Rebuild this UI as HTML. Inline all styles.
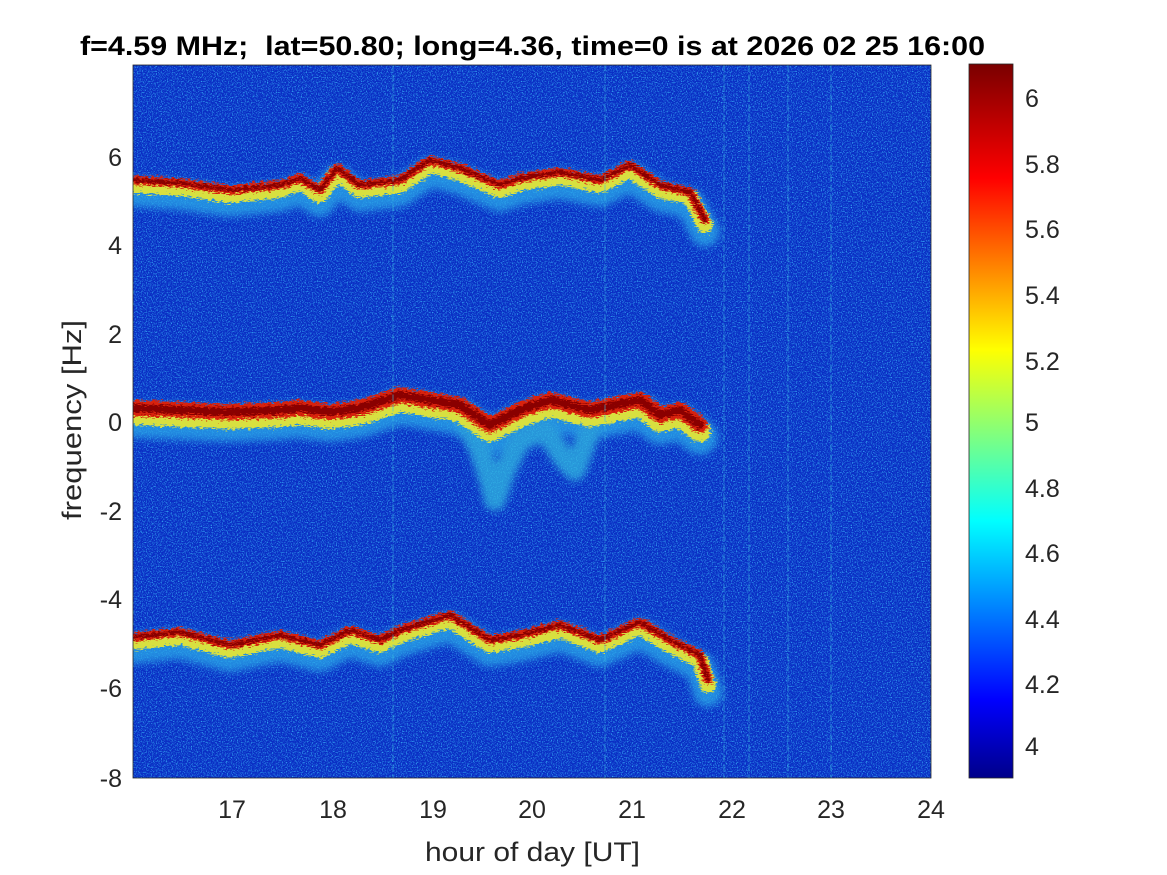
<!DOCTYPE html>
<html><head><meta charset="utf-8"><style>
html,body{margin:0;padding:0;background:#fff;}
svg{display:block;font-family:"Liberation Sans",Arial,sans-serif;}
</style></head><body>
<svg width="1167" height="875" viewBox="0 0 1167 875" xmlns="http://www.w3.org/2000/svg">
<defs>
<linearGradient id="jet" x1="0" y1="1" x2="0" y2="0">
<stop offset="0" stop-color="#00008a"/>
<stop offset="0.11" stop-color="#0000ff"/>
<stop offset="0.36" stop-color="#00ffff"/>
<stop offset="0.6" stop-color="#ffff00"/>
<stop offset="0.84" stop-color="#ff0000"/>
<stop offset="1" stop-color="#7a0000"/>
</linearGradient>
<filter id="noise" x="0" y="0" width="100%" height="100%">
<feTurbulence type="fractalNoise" baseFrequency="0.8" numOctaves="2" seed="3"/>
<feColorMatrix type="matrix" values="0 0 0 0 0.05  0 0 0 0 0.55  0 0 0 0 1  0 0 0 3 -1.45"/>
</filter>
<filter id="rough" x="-5%" y="-20%" width="110%" height="140%">
<feTurbulence type="fractalNoise" baseFrequency="0.25 0.9" numOctaves="2" seed="7" result="t"/>
<feDisplacementMap in="SourceGraphic" in2="t" scale="10" xChannelSelector="R" yChannelSelector="G"/>
</filter>
<filter id="blur"><feGaussianBlur stdDeviation="4"/></filter>
<clipPath id="pc"><rect x="133" y="65" width="798" height="713"/></clipPath>
</defs>
<rect x="133" y="65" width="798" height="713" fill="#0a2ec4"/>
<rect x="133" y="65" width="798" height="713" filter="url(#noise)" opacity="0.85"/>
<g clip-path="url(#pc)" fill="none" stroke-linejoin="round" stroke-linecap="round">
<g filter="url(#blur)" opacity="0.75">
<polyline stroke="#2aa8e8" stroke-width="30" transform="translate(0,12)" points="133,180 180,183 230,190 280,185 300,178 320,190 337,168 360,185 400,180 430,160 460,168 500,185 520,178 560,172 600,180 630,165 660,185 690,192 705,220"/>
<polyline stroke="#2aa8e8" stroke-width="36" transform="translate(0,12)" points="133,408 180,410 230,412 280,410 300,408 330,412 360,408 400,395 430,400 460,405 490,425 520,410 550,400 590,410 640,400 660,415 680,410 700,425"/>
<polyline stroke="#30b8e0" stroke-width="22" points="465,420 480,450 490,480 495,500 505,470 520,440 545,430 565,460 575,470 590,430"/>
<polyline stroke="#2aa8e8" stroke-width="30" transform="translate(0,12)" points="133,637 180,632 230,645 280,635 320,645 350,630 380,640 400,630 450,615 490,640 520,635 560,625 600,640 640,622 670,640 700,655 708,680"/>
</g>
<g filter="url(#rough)">
<polyline stroke="#d8e040" stroke-width="16" transform="translate(0,5)" points="133,180 180,183 230,190 280,185 300,178 320,190 337,168 360,185 400,180 430,160 460,168 500,185 520,178 560,172 600,180 630,165 660,185 690,192 705,220"/>
<polyline stroke="#d8e040" stroke-width="22" transform="translate(0,6)" points="133,408 180,410 230,412 280,410 300,408 330,412 360,408 400,395 430,400 460,405 490,425 520,410 550,400 590,410 640,400 660,415 680,410 700,425"/>
<polyline stroke="#d8e040" stroke-width="16" transform="translate(0,5)" points="133,637 180,632 230,645 280,635 320,645 350,630 380,640 400,630 450,615 490,640 520,635 560,625 600,640 640,622 670,640 700,655 708,680"/>
<polyline stroke="#d82010" stroke-width="9" points="133,180 180,183 230,190 280,185 300,178 320,190 337,168 360,185 400,180 430,160 460,168 500,185 520,178 560,172 600,180 630,165 660,185 690,192 705,220"/>
<polyline stroke="#d82010" stroke-width="16" points="133,408 180,410 230,412 280,410 300,408 330,412 360,408 400,395 430,400 460,405 490,425 520,410 550,400 590,410 640,400 660,415 680,410 700,425"/>
<polyline stroke="#d82010" stroke-width="9" points="133,637 180,632 230,645 280,635 320,645 350,630 380,640 400,630 450,615 490,640 520,635 560,625 600,640 640,622 670,640 700,655 708,680"/>
<polyline stroke="#8a0000" stroke-width="4" points="133,180 180,183 230,190 280,185 300,178 320,190 337,168 360,185 400,180 430,160 460,168 500,185 520,178 560,172 600,180 630,165 660,185 690,192 705,220"/>
<polyline stroke="#8a0000" stroke-width="8" points="133,408 180,410 230,412 280,410 300,408 330,412 360,408 400,395 430,400 460,405 490,425 520,410 550,400 590,410 640,400 660,415 680,410 700,425"/>
<polyline stroke="#8a0000" stroke-width="4" points="133,637 180,632 230,645 280,635 320,645 350,630 380,640 400,630 450,615 490,640 520,635 560,625 600,640 640,622 670,640 700,655 708,680"/>
</g>
<g stroke="#40c0e0" stroke-width="1.2" opacity="0.5" stroke-dasharray="6 4">
<line x1="393" y1="65" x2="393" y2="778"/><line x1="724" y1="65" x2="724" y2="778"/>
<line x1="788" y1="65" x2="788" y2="778"/><line x1="831" y1="65" x2="831" y2="778"/>
<line x1="749" y1="65" x2="749" y2="778"/><line x1="605" y1="65" x2="605" y2="778"/>
</g>
</g>
<rect x="133" y="65" width="798" height="713" fill="none" stroke="#262626" stroke-width="0.8"/>
<g fill="#262626" font-size="25" text-anchor="middle">
<text x="232" y="818">17</text><text x="333" y="818">18</text><text x="433" y="818">19</text><text x="532" y="818">20</text><text x="632" y="818">21</text><text x="732" y="818">22</text><text x="831" y="818">23</text><text x="931" y="818">24</text>
</g>
<g fill="#262626" font-size="25" text-anchor="end">
<text x="122" y="166">6</text><text x="122" y="254">4</text><text x="122" y="343">2</text><text x="122" y="431">0</text><text x="122" y="520">-2</text><text x="122" y="608">-4</text><text x="122" y="697">-6</text><text x="122" y="787">-8</text>
</g>
<text x="425" y="861" font-size="27" fill="#262626" textLength="215" lengthAdjust="spacingAndGlyphs">hour of day [UT]</text>
<text transform="translate(81,520) rotate(-90)" font-size="27" fill="#262626" textLength="200" lengthAdjust="spacingAndGlyphs">frequency [Hz]</text>
<text x="80" y="55" font-size="27" font-weight="bold" fill="#000" textLength="905" lengthAdjust="spacingAndGlyphs" xml:space="preserve">f=4.59 MHz;  lat=50.80; long=4.36, time=0 is at 2026 02 25 16:00</text>
<rect x="969" y="64" width="44" height="714" fill="url(#jet)" stroke="#262626" stroke-width="0.8"/>
<g fill="#262626" font-size="25">
<text x="1025" y="107">6</text><text x="1025" y="173">5.8</text><text x="1025" y="238">5.6</text><text x="1025" y="304">5.4</text><text x="1025" y="370">5.2</text><text x="1025" y="431">5</text><text x="1025" y="497">4.8</text><text x="1025" y="562">4.6</text><text x="1025" y="628">4.4</text><text x="1025" y="693">4.2</text><text x="1025" y="755">4</text>
</g>
</svg>
</body></html>
